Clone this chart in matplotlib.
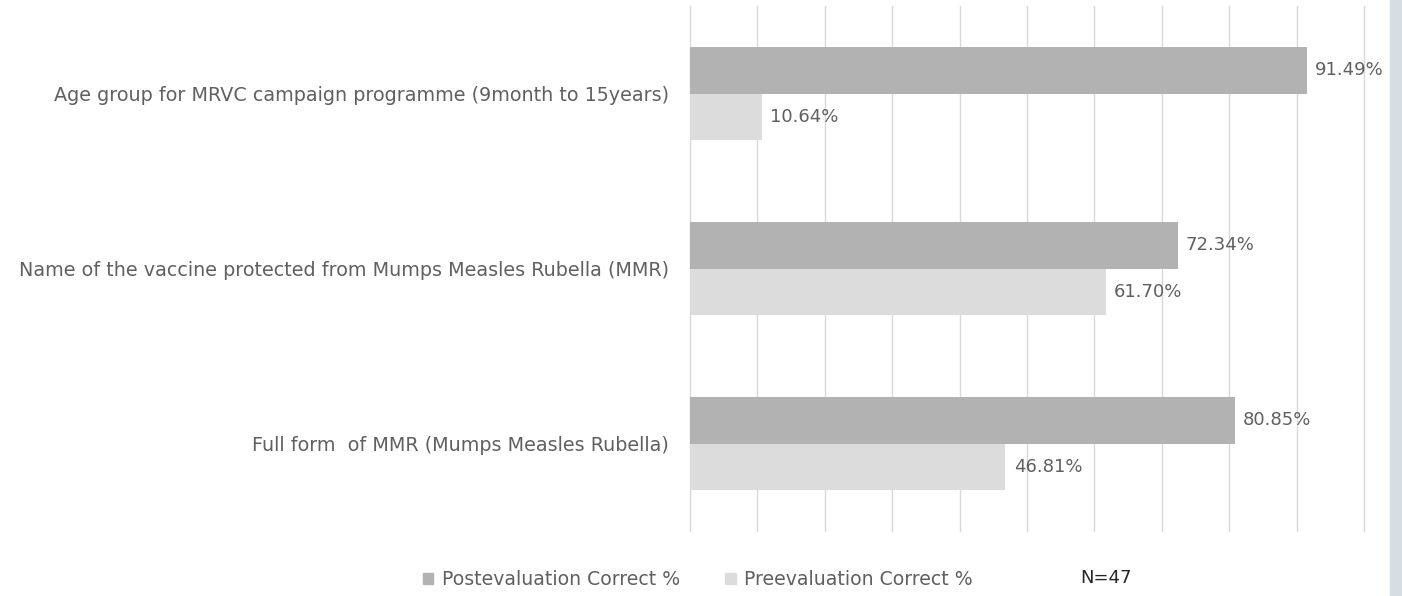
import numpy as np
import matplotlib.pyplot as plt
from matplotlib.patches import Patch, Rectangle

# Survey items, top to bottom
questions = [
    "Age group for MRVC campaign programme (9month to 15years)",
    "Name of the vaccine protected from Mumps Measles Rubella (MMR)",
    "Full form  of MMR (Mumps Measles Rubella)",
]
post_correct = [91.49, 72.34, 80.85]
pre_correct = [10.64, 61.70, 46.81]

post_color = "#b2b2b2"
pre_color = "#dcdcdc"
text_color = "#606060"

plt.rcParams["font.family"] = ["DejaVu Sans"]

fig = plt.figure(figsize=(14.02, 5.96), dpi=100)
ax = fig.add_axes([690 / 1402, 65 / 596, 674 / 1402, 525 / 596])

y = np.arange(len(questions))
h = 0.263  # bar thickness as a share of each category band

ax.barh(y - h / 2, post_correct, height=h, color=post_color, zorder=2)
ax.barh(y + h / 2, pre_correct, height=h, color=pre_color, zorder=2)

# value labels just past the bar ends
for yi, v in zip(y, post_correct):
    ax.text(v + 1.2, yi - h / 2, f"{v:.2f}%", va="center", ha="left",
            fontsize=13, color=text_color)
for yi, v in zip(y, pre_correct):
    ax.text(v + 1.2, yi + h / 2, f"{v:.2f}%", va="center", ha="left",
            fontsize=13, color=text_color)

ax.set_xlim(0, 100)
ax.set_ylim(len(questions) - 0.5, -0.5)
ax.set_xticks(np.arange(0, 101, 10))
ax.set_xticklabels([])
ax.tick_params(axis="x", length=0)
ax.grid(axis="x", color="#d9d9d9", linewidth=1.0, zorder=0)
for gl in ax.get_xgridlines():
    gl.set_clip_on(False)
ax.set_yticks(y)
ax.set_yticklabels(questions, fontsize=13.8, color=text_color)
ax.tick_params(axis="y", length=0, pad=15)
for s in ax.spines.values():
    s.set_visible(False)

handles = [Patch(color=post_color, label="Postevaluation Correct %"),
           Patch(color=pre_color, label="Preevaluation Correct %")]
fig.legend(handles=handles, loc="center", bbox_to_anchor=(698 / 1402, 0.027),
           ncol=2, frameon=False, fontsize=13.6, handlelength=0.55,
           handleheight=0.55, handletextpad=0.45, columnspacing=2.4,
           labelcolor=text_color)

fig.text(1080 / 1402, 0.030, "N=47", fontsize=13, color="#262626",
         va="center", ha="left")

# pale strip along the right edge
fig.patches.append(Rectangle((1390 / 1402, 0), 12 / 1402, 1,
                             transform=fig.transFigure, color="#d6dee4",
                             zorder=0))

fig.savefig("out.png", dpi=100)
